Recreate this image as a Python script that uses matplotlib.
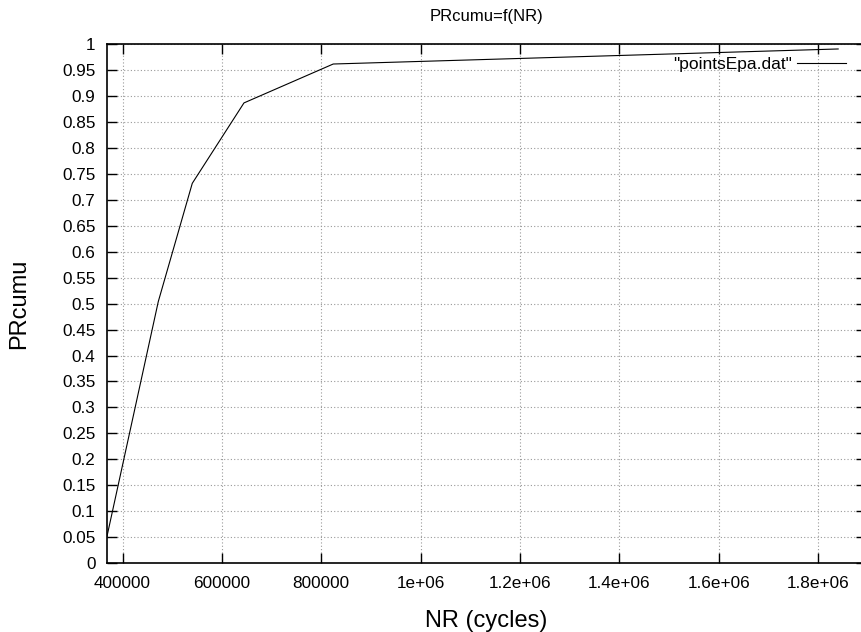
import matplotlib
matplotlib.use("Agg")
import matplotlib.pyplot as plt
import numpy as np

# Data
nr_cycles = [368000, 472000, 540400, 644400, 824000, 1840000]
pr_cumu = [0.048, 0.504, 0.732, 0.887, 0.962, 0.991]

x_ticks = [400000, 600000, 800000, 1000000, 1200000, 1400000, 1600000, 1800000]
x_tick_labels = ["400000", "600000", "800000", "1e+06", "1.2e+06", "1.4e+06", "1.6e+06", "1.8e+06"]
y_ticks = [round(0.05 * i, 2) for i in range(21)]
y_tick_labels = ["0", "0.05", "0.1", "0.15", "0.2", "0.25", "0.3", "0.35", "0.4", "0.45", "0.5",
                 "0.55", "0.6", "0.65", "0.7", "0.75", "0.8", "0.85", "0.9", "0.95", "1"]

plt.rcParams['font.family'] = ['Liberation Sans', 'DejaVu Sans']

W, H = 861, 632
fig = plt.figure(figsize=(W / 100, H / 100), dpi=100)
left_px, right_px, top_px, bottom_px = 106.5, 866, 44.3, 563
ax = fig.add_axes([left_px / W, (H - bottom_px) / H, (right_px - left_px) / W, (bottom_px - top_px) / H])

ax.plot(nr_cycles, pr_cumu, color='black', lw=0.8, label='"pointsEpa.dat"')

ax.set_xlim(367800, 1896000)
ax.set_ylim(0, 1)
ax.set_xticks(x_ticks)
ax.set_xticklabels(x_tick_labels)
ax.set_yticks(y_ticks)
ax.set_yticklabels(y_tick_labels)

ax.tick_params(direction='in', length=7, width=1, top=True, right=True, labelsize=12.3)
ax.tick_params(axis='y', pad=8)
ax.tick_params(axis='x', pad=9)
ax.grid(True, color='#999999', linestyle=(0, (1, 2)), linewidth=0.8)
for s in ax.spines.values():
    s.set_linewidth(1.2)

ax.set_title('PRcumu=f(NR)', fontsize=12, pad=17)
ax.set_xlabel('NR (cycles)', fontsize=17, labelpad=14)
ax.set_ylabel('PRcumu', fontsize=17, labelpad=23)

leg = ax.legend(loc='upper right', bbox_to_anchor=((858 - left_px) / (right_px - left_px), 1.0),
                frameon=False, fontsize=12.5, markerfirst=False, handlelength=2.8,
                handletextpad=0.3, borderaxespad=0.3)

fig.savefig('out.png', dpi=100)
